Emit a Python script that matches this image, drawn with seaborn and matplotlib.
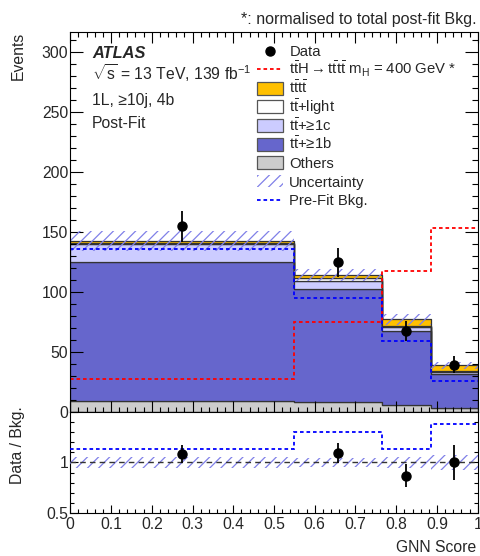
import numpy as np
import pandas as pd
import matplotlib
matplotlib.use("Agg")
import matplotlib.pyplot as plt
import matplotlib.transforms as mtransforms
from matplotlib.patches import Rectangle
from matplotlib.lines import Line2D
from matplotlib.ticker import MultipleLocator, FixedLocator, FuncFormatter
import seaborn as sns

# ---------------- data ----------------
bin_edges = [0.0, 0.55, 0.765, 0.885, 1.0]
comp_names = ["tttt", "ttlight", "tt1c", "tt1b", "Others"]
tttt = [1.5, 2.8, 5.6, 4.8]
tt_light = [1.0, 2.0, 0.8, 1.2]
tt_1c = [14.8, 6.9, 3.6, 1.5]
tt_1b = [115.8, 93.6, 61.9, 28.6]
others = [9.7, 8.9, 5.6, 3.1]
total_unc = [8.2, 5.0, 4.5, 3.0]
data = [154.7, 124.7, 67.5, 39.4]
data_err = [12.8, 11.7, 8.5, 7.0]
prefit_bkg = [135.6, 95.3, 59.2, 26.0]
signal_ttH = [27.5, 75.0, 117.5, 153.6]
ratio_data = [1.08, 1.09, 0.87, 1.00]
ratio_err = [0.09, 0.10, 0.11, 0.17]
ratio_prefit = [1.136, 1.306, 1.136, 1.386]
ratio_unc = [0.056, 0.045, 0.058, 0.075]
x_ticks = [0, 0.1, 0.2, 0.3, 0.4, 0.5, 0.6, 0.7, 0.8, 0.9, 1.0]
y_ticks = [0, 50, 100, 150, 200, 250, 300]

comp_colors = {"tttt": "#ffc000", "ttlight": "#ffffff", "tt1c": "#ccccff",
               "tt1b": "#6666cc", "Others": "#cccccc"}
hatch_col = "#8080e8"

# ---------------- style ----------------
sns.set_theme(style="ticks")
plt.rcParams["font.family"] = ["Liberation Sans", "DejaVu Sans"]
plt.rcParams["mathtext.fontset"] = "custom"
plt.rcParams["mathtext.rm"] = "Liberation Sans"
plt.rcParams["mathtext.it"] = "Liberation Sans:italic"
plt.rcParams["mathtext.bf"] = "Liberation Sans:bold"
plt.rcParams["mathtext.sf"] = "Liberation Sans"
plt.rcParams["hatch.linewidth"] = 0.9
plt.rcParams["axes.linewidth"] = 0.8

W, H = 481, 556
fig = plt.figure(figsize=(W / 100, H / 100), dpi=100)
pix = mtransforms.Affine2D().scale(1 / W, -1 / H).translate(0, 1) + fig.transFigure

ax = fig.add_axes([70.3 / W, 1 - 412.2 / H, 407.4 / W, (412.2 - 32.3) / H])
rax = fig.add_axes([70.3 / W, 1 - 512.7 / H, 407.4 / W, (512.7 - 412.2) / H], sharex=ax)

centers = [(a + b) / 2 for a, b in zip(bin_edges[:-1], bin_edges[1:])]

# ---------------- stacked background ----------------
rows = []
for name, vals in zip(comp_names, [tttt, tt_light, tt_1c, tt_1b, others]):
    for c, v in zip(centers, vals):
        rows.append({"x": c, "w": v, "comp": name})
df = pd.DataFrame(rows)
sns.histplot(data=df, x="x", weights="w", hue="comp", hue_order=comp_names,
             multiple="stack", bins=bin_edges, element="step",
             palette=comp_colors, alpha=1, edgecolor="#333333",
             linewidth=0.9, legend=False, ax=ax)

total = np.array(tttt) + np.array(tt_light) + np.array(tt_1c) + np.array(tt_1b) + np.array(others)
unc = np.array(total_unc)
ax.stairs(total + unc, bin_edges, baseline=total - unc, fill=True,
          facecolor="none", edgecolor=hatch_col, hatch="///", linewidth=0, zorder=5)

dash = (0, (2.0, 1.6))
ax.stairs(signal_ttH, bin_edges, baseline=None, color="#ff0000",
          linestyle=dash, linewidth=1.3, zorder=6)
ax.stairs(prefit_bkg, bin_edges, baseline=None, color="#0000ff",
          linestyle=dash, linewidth=1.3, zorder=6)
ax.errorbar(centers, data, yerr=data_err, fmt="o", color="black",
            markersize=6.5, elinewidth=1.3, capsize=0, zorder=8)

ax.set_xlim(0, 1)
ax.set_ylim(0, 316.4)
ax.set_xlabel("")
ax.set_ylabel("")
ax.yaxis.set_major_locator(FixedLocator(y_ticks))
ax.yaxis.set_minor_locator(MultipleLocator(10))
ax.xaxis.set_major_locator(FixedLocator(x_ticks))
ax.xaxis.set_minor_locator(MultipleLocator(0.02))
ax.tick_params(axis="both", which="both", direction="in", top=True, right=True,
               labelbottom=False, labelsize=11.3, pad=1.5, width=0.8, color="black")
ax.tick_params(axis="y", which="major", length=9.5)
ax.tick_params(axis="y", which="minor", length=4.3)
ax.tick_params(axis="x", which="major", length=7.7)
ax.tick_params(axis="x", which="minor", length=3.5)
for s in ax.spines.values():
    s.set_color("black")
    s.set_zorder(10)
ax.set_axisbelow(False)

# ---------------- ratio panel ----------------
rr = np.array(ratio_unc)
rax.stairs(1 + rr, bin_edges, baseline=1 - rr, fill=True, facecolor="none",
           edgecolor=hatch_col, hatch="///", linewidth=0, zorder=3)
rax.axhline(1.0, color="#333333", linestyle=(0, (4, 3)), linewidth=1.0, zorder=4)
rax.stairs(ratio_prefit, bin_edges, baseline=None, color="#0000ff",
           linestyle=dash, linewidth=1.3, zorder=5)
rax.errorbar(centers, ratio_data, yerr=ratio_err, fmt="o", color="black",
             markersize=6.5, elinewidth=1.3, capsize=0, zorder=8)
rax.set_ylim(0.5, 1.5)
rax.set_xlim(0, 1)
rax.yaxis.set_major_locator(FixedLocator([0.5, 1.0, 1.5]))
rax.yaxis.set_major_formatter(FuncFormatter(lambda v, p: "" if v > 1.4 else f"{v:g}"))
rax.yaxis.set_minor_locator(MultipleLocator(0.1))
rax.xaxis.set_major_formatter(FuncFormatter(lambda v, p: f"{v:g}"))
rax.tick_params(axis="both", which="both", direction="in", top=False, right=True,
                labelsize=11.3, width=0.8, color="black")
rax.tick_params(axis="y", which="major", length=6, pad=1.5)
rax.tick_params(axis="y", which="minor", length=3)
rax.tick_params(axis="x", which="major", length=6, pad=3)
rax.tick_params(axis="x", which="minor", length=3)
rax.set_xlabel("")
rax.set_ylabel("")
for s in rax.spines.values():
    s.set_color("black")

# ---------------- texts ----------------
fig.text(476.7, 24, "*: normalised to total post-fit Bkg.", transform=pix,
         ha="right", va="baseline", fontsize=11.5)
fig.text(18, 32, "Events", transform=pix, rotation=90, ha="center", va="top", fontsize=11.3)
fig.text(18, 445, "Data / Bkg.", transform=pix, rotation=90, ha="center", va="center", fontsize=11.3)
fig.text(476, 552, "GNN Score", transform=pix, ha="right", va="baseline", fontsize=11.3)

fig.text(92, 57.5, "ATLAS", transform=pix, ha="left", va="baseline",
         fontsize=11.8, fontweight="bold", fontstyle="italic")
fig.text(92, 79.5, r"$\sqrt{\mathrm{s}}$ = 13 TeV, 139 fb$^{\mathrm{-1}}$", transform=pix,
         ha="left", va="baseline", fontsize=11.3)
fig.text(92, 104.5, "1L, ≥10j, 4b", transform=pix, ha="left", va="baseline", fontsize=11.3)
fig.text(92, 128.5, "Post-Fit", transform=pix, ha="left", va="baseline", fontsize=11.3)

# ---------------- legend ----------------
leg_labels = ["Data",
              r"$\mathrm{t\bar{t}H \rightarrow t\bar{t}t\bar{t}\ m_{H}}$ = 400 GeV *",
              r"$\mathrm{t\bar{t}t\bar{t}}$",
              r"$\mathrm{t\bar{t}}$+light",
              r"$\mathrm{t\bar{t}}$+≥1c",
              r"$\mathrm{t\bar{t}}$+≥1b",
              "Others",
              "Uncertainty",
              "Pre-Fit Bkg."]
y0, dy = 50.7, 18.66
xl, xr, xt = 257.3, 283.3, 289.3
for i, lab in enumerate(leg_labels):
    yc = y0 + i * dy
    fig.text(xt, yc + 5.2, lab, transform=pix, ha="left", va="baseline", fontsize=10.7)
    if i == 0:
        fig.add_artist(Line2D([270.5], [yc], transform=pix, marker="o", color="black",
                              markersize=6.5, linestyle="none"))
    elif i == 1:
        fig.add_artist(Line2D([xl, xr - 2], [yc, yc], transform=pix, color="#ff0000",
                              linestyle=dash, linewidth=1.3))
    elif i == 8:
        fig.add_artist(Line2D([xl, xr - 2], [yc, yc], transform=pix, color="#0000ff",
                              linestyle=dash, linewidth=1.3))
    elif i == 7:
        fig.add_artist(Rectangle((xl, yc - 6), xr - xl, 12, transform=pix,
                                 facecolor="none", edgecolor=hatch_col, hatch="///",
                                 linewidth=0))
    else:
        name = comp_names[i - 2]
        fig.add_artist(Rectangle((xl, yc - 6.5), xr - xl, 13, transform=pix,
                                 facecolor=comp_colors[name], edgecolor="#555555",
                                 linewidth=0.9))

fig.savefig("out.png", dpi=100)
